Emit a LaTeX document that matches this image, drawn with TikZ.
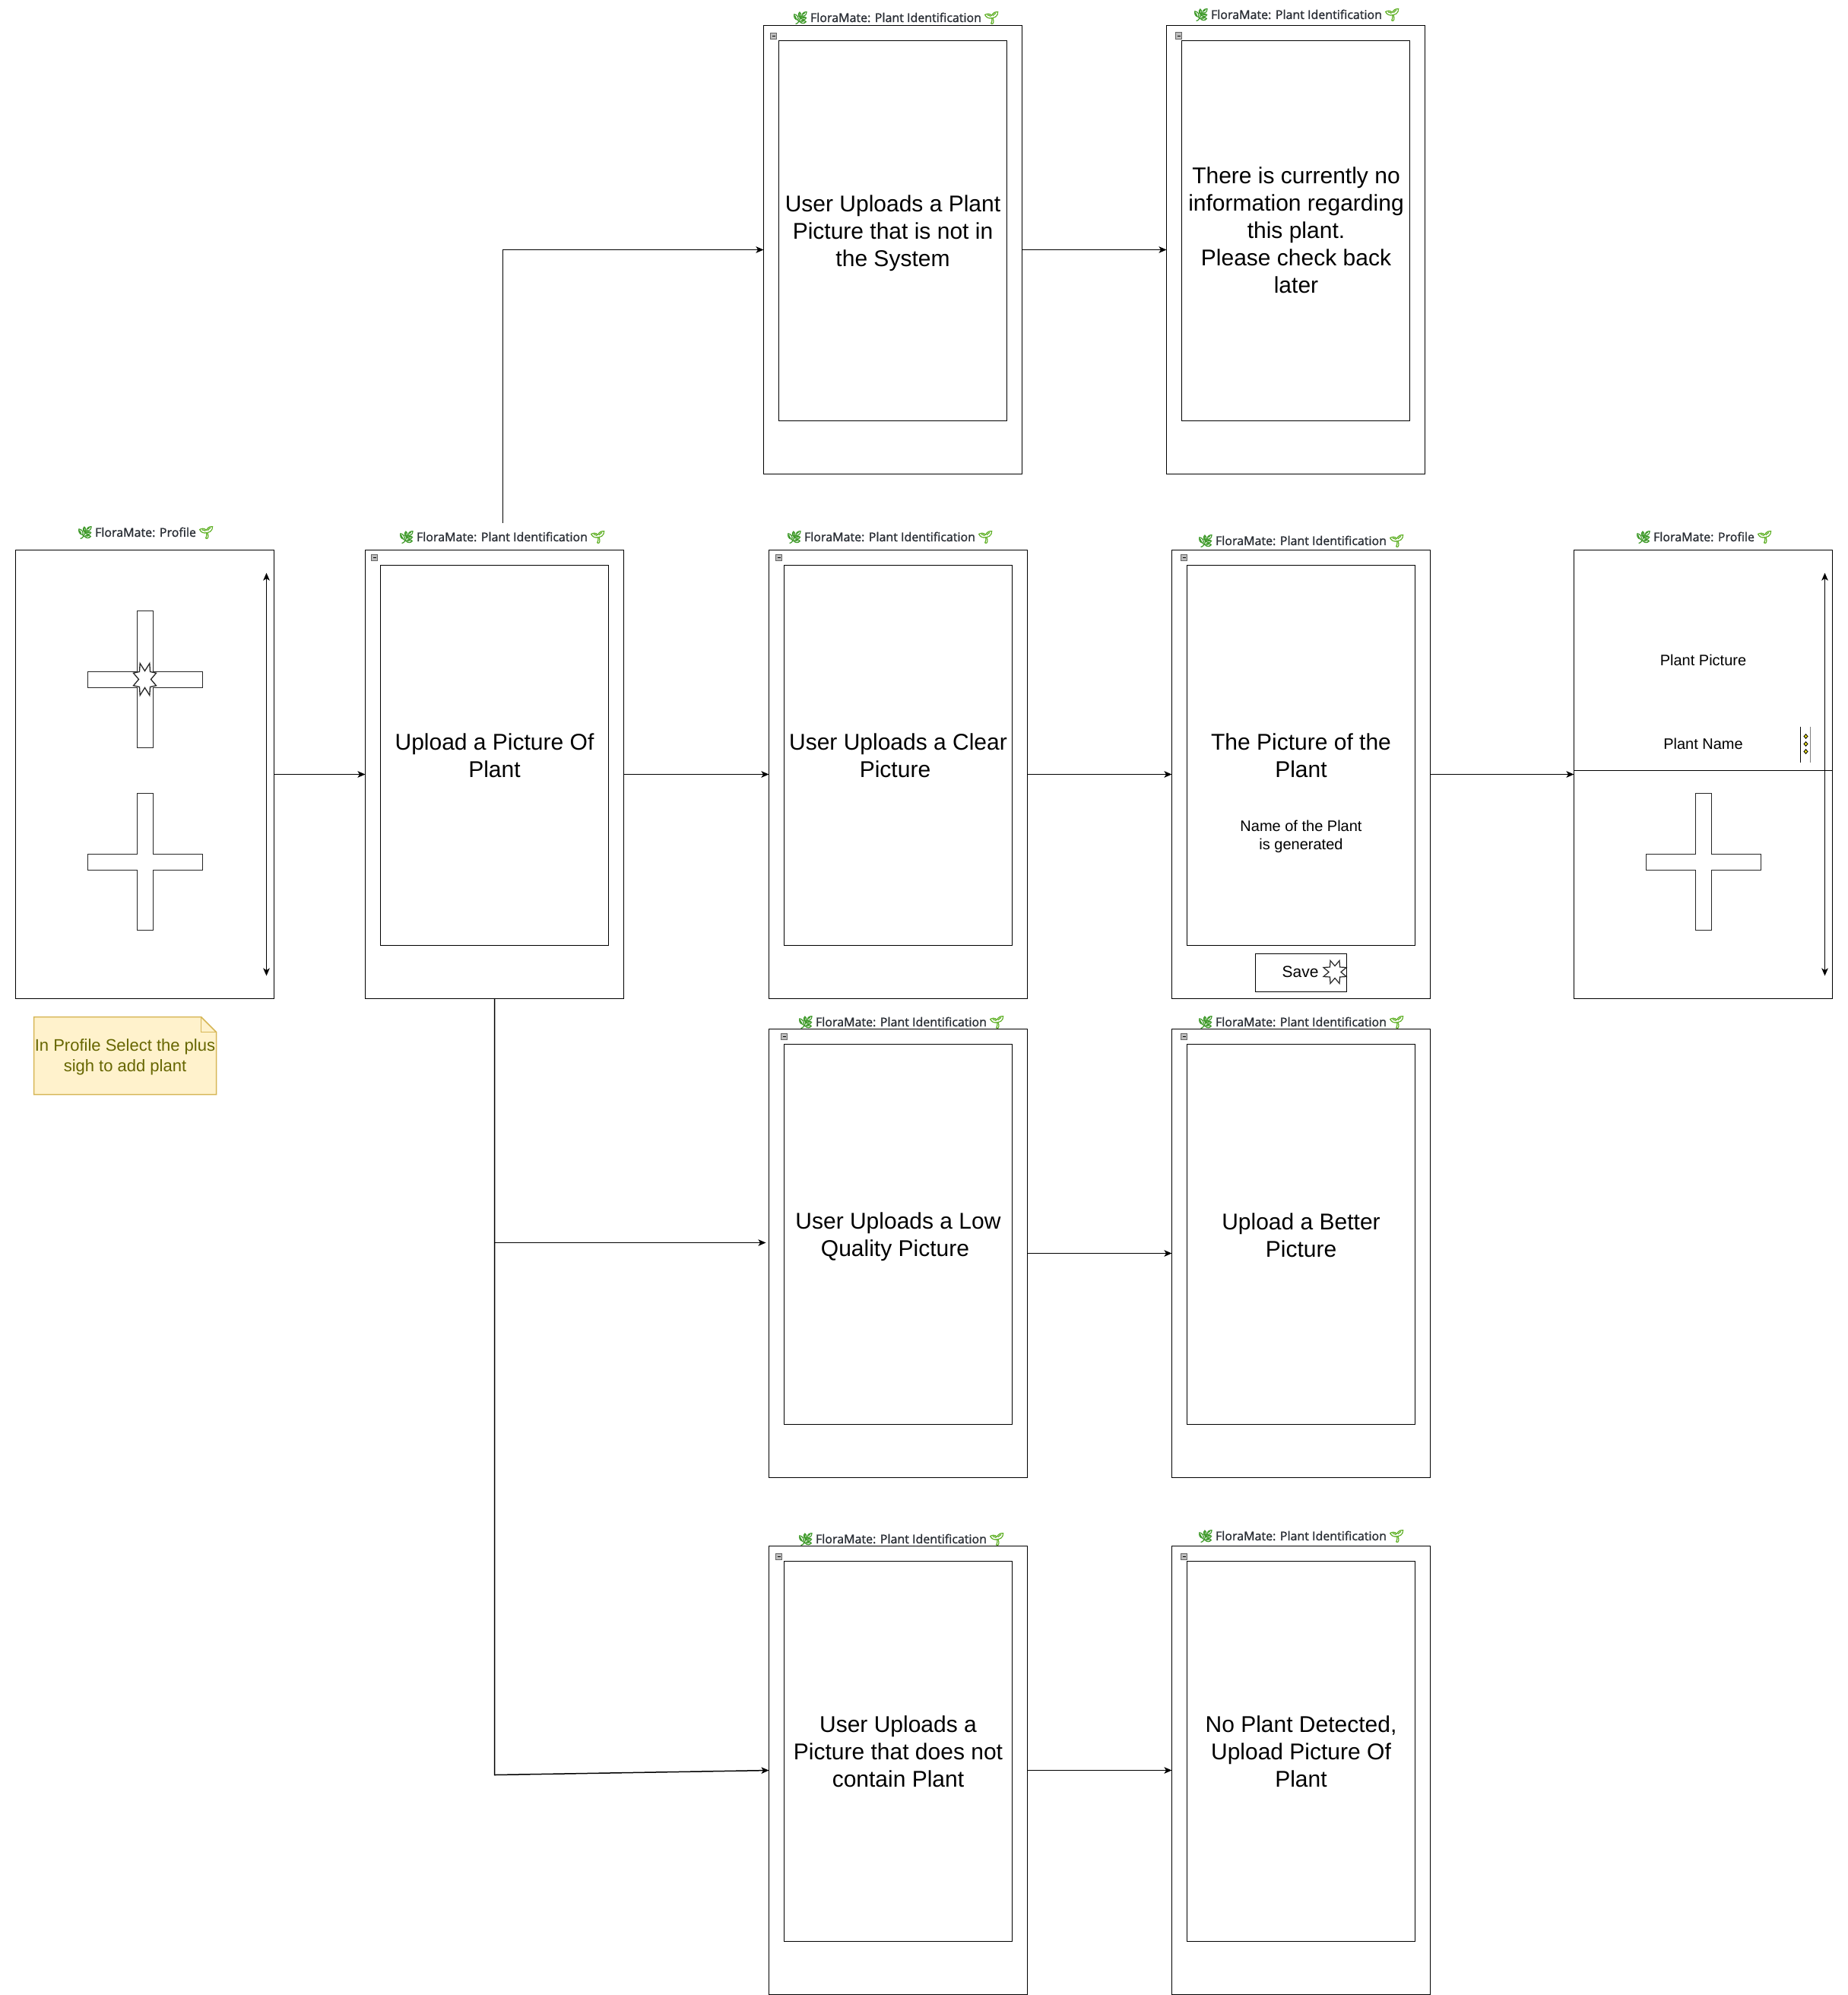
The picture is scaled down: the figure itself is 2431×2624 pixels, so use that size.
\documentclass[tikz,border=0pt]{standalone}
\usepackage{fontspec}
\setmainfont{Liberation Sans}
\newfontfamily\emojifont{Noto Emoji}[FakeBold=3]
\newfontfamily\titlefont{Open Sans}[FakeBold=1.5]
\usetikzlibrary{arrows.meta}
\definecolor{titleink}{HTML}{2A2E35}
\definecolor{leafgreen}{HTML}{3F9A2A}
\definecolor{sproutgreen}{HTML}{5FB025}
\definecolor{notefill}{HTML}{FFF2CC}
\definecolor{noteline}{HTML}{D6B656}
\definecolor{noteink}{HTML}{666600}
\definecolor{iconfill}{HTML}{BDBDBD}
\newcommand{\flowtitle}[1]{{\emojifont\textcolor{leafgreen}{^^^^^1f33f}}\hspace{3pt}#1\hspace{3pt}{\emojifont\textcolor{sproutgreen}{^^^^^1f331}}}
\newcommand{\trailgap}{\hbox to 8pt{\hfil}}
\tikzset{
  x=1pt,y=-1pt,
  line width=1.5pt,
  frame/.style={draw=black,fill=white,minimum width=340pt,minimum height=590pt,inner sep=0pt,outer sep=0pt,line width=1.5pt},
  screen/.style={draw=black,fill=white,minimum width=300pt,minimum height=500pt,inner sep=0pt,outer sep=0pt,line width=1.5pt},
  bigtext/.style={align=center,font=\fontsize{30}{36}\selectfont,inner sep=0pt},
  flow/.style={draw=black,-{Stealth[length=10pt,width=8.5pt,inset=2.5pt]},line width=1.5pt},
  twoway/.style={draw=black,{Stealth[length=10pt,width=8.5pt,inset=2.5pt]}-{Stealth[length=10pt,width=8.5pt,inset=2.5pt]},line width=1.5pt},
  pagetitle/.style={font=\titlefont\fontsize{16}{20}\selectfont,text=titleink,inner sep=0pt},
  small/.style={font=\fontsize{20}{24}\selectfont,align=center,inner sep=0pt},
  icon/.style={draw=black!60,fill=iconfill,minimum size=8.5pt,inner sep=0pt,line width=0.8pt,
    path picture={\draw[black,line width=1pt] ([xshift=-2pt]path picture bounding box.center) -- ([xshift=2pt]path picture bounding box.center);}},
  shapeline/.style={draw=black!85,fill=white,line width=1.3pt,line join=miter},
}
\newcommand{\crossat}[2]{\draw[shapeline] (#1-10,#2-90) -- (#1+11,#2-90) -- (#1+11,#2-10) -- (#1+76,#2-10) -- (#1+76,#2+11) -- (#1+11,#2+11) -- (#1+11,#2+90) -- (#1-10,#2+90) -- (#1-10,#2+11) -- (#1-75,#2+11) -- (#1-75,#2-10) -- (#1-10,#2-10) -- cycle;}
\begin{document}
\begin{tikzpicture}[shift={(0.5,0.5)}]
\useasboundingbox (-0.5,-0.5) rectangle (2430.5,2623.5);
% frames
\node[frame,anchor=north west] (prof) at (20,723) {};
\node[frame,anchor=north west] (upl) at (480,723) {};
\node[frame,anchor=north west] (clr) at (1011,723) {};
\node[frame,anchor=north west] (gen) at (1541,723) {};
\node[frame,anchor=north west] (prof2) at (2070,723) {};
\node[frame,anchor=north west] (top1) at (1004,33) {};
\node[frame,anchor=north west] (top2) at (1534,33) {};
\node[frame,anchor=north west] (low) at (1011,1353) {};
\node[frame,anchor=north west] (bet) at (1541,1353) {};
\node[frame,anchor=north west] (nop) at (1011,2033) {};
\node[frame,anchor=north west] (nod) at (1541,2033) {};
% inner screens
\node[screen,anchor=north west] (suplo) at (500,743) {};
\node[screen,anchor=north west] (sclr) at (1031,743) {};
\node[screen,anchor=north west] (sgen) at (1561,743) {};
\node[screen,anchor=north west] (stop1) at (1024,53) {};
\node[screen,anchor=north west] (stop2) at (1554,53) {};
\node[screen,anchor=north west] (slow) at (1031,1373) {};
\node[screen,anchor=north west] (sbet) at (1561,1373) {};
\node[screen,anchor=north west] (snop) at (1031,2053) {};
\node[screen,anchor=north west] (snod) at (1561,2053) {};
% screen texts
\node[bigtext] (tuplo) at (650,993) {Upload a Picture Of\\Plant};
\node[bigtext] (tclr) at (1181,993) {User Uploads a Clear\\Picture\trailgap};
\node[bigtext] (tgen) at (1711,993) {The Picture of the\\Plant};
\node[small] (tname) at (1711,1099.5) {Name of the Plant\\is generated};
\node[bigtext] (ttop1) at (1174,306) {User Uploads a Plant\\Picture that is not in\\the System};
\node[bigtext] (ttop2) at (1704.5,302.5) {There is currently no\\information regarding\\this plant.\\Please check back\\later};
\node[bigtext] (tlow) at (1181,1626) {User Uploads a Low\\Quality Picture\trailgap};
\node[bigtext] (tbet) at (1711,1624) {Upload a Better\\Picture};
\node[bigtext] (tnop) at (1181,2303) {User Uploads a\\Picture that does not\\contain Plant};
\node[bigtext] (tnod) at (1711,2303) {No Plant Detected,\\Upload Picture Of\\Plant};
% titles
\node[pagetitle] (h1) at (191,700) {\flowtitle{FloraMate: Profile}};
\node[pagetitle] (h2) at (660,706) {\flowtitle{FloraMate: Plant Identification}};
\node[pagetitle] (h3) at (1170,706) {\flowtitle{FloraMate: Plant Identification}};
\node[pagetitle] (h4) at (1711,711) {\flowtitle{FloraMate: Plant Identification}};
\node[pagetitle] (h5) at (2241,706) {\flowtitle{FloraMate: Profile}};
\node[pagetitle] (h6) at (1178,23) {\flowtitle{FloraMate: Plant Identification}};
\node[pagetitle] (h7) at (1705,19) {\flowtitle{FloraMate: Plant Identification}};
\node[pagetitle] (h8) at (1185,1344) {\flowtitle{FloraMate: Plant Identification}};
\node[pagetitle] (h9) at (1711,1344) {\flowtitle{FloraMate: Plant Identification}};
\node[pagetitle] (h10) at (1185,2024) {\flowtitle{FloraMate: Plant Identification}};
\node[pagetitle] (h11) at (1711,2020) {\flowtitle{FloraMate: Plant Identification}};
% collapse icons
\node[icon] (i1) at (492,733) {};
\node[icon] (i2) at (1024,733) {};
\node[icon] (i3) at (1557,733) {};
\node[icon] (i4) at (1017,47) {};
\node[icon] (i5) at (1550,46.5) {};
\node[icon] (i6) at (1031,1363) {};
\node[icon] (i7) at (1557,1363) {};
\node[icon] (i8) at (1024,2047) {};
\node[icon] (i9) at (1557,2047) {};
% profile widgets
\crossat{190}{893}
\crossat{190}{1133}
\crossat{2240}{1133}
\draw[shapeline] (183.7,872) -- (190,882) -- (196.3,872) -- (197,883) -- (205,884.7) -- (198,893) -- (205,901.3) -- (197,903) -- (196.3,914) -- (190,904) -- (183.7,914) -- (183,903) -- (175,901.3) -- (182,893) -- (175,884.7) -- (183,883) -- cycle;
\coordinate (pa) at (350,753);
\coordinate (pb) at (350,1283);
\draw[twoway] (pa) -- (pb);
\coordinate (qa) at (2400,753);
\coordinate (qb) at (2400,1283);
\draw[twoway] (qa) -- (qb);
\draw (prof2.west |- 0,1013) -- (prof2.east |- 0,1013);
\node[small] (pp) at (2240,868) {Plant Picture};
\node[small] (pn) at (2240,978) {Plant Name};
\draw[line width=1.2pt] (2368,955) -- (2368,1002);
\draw[draw=black!50,line width=1.4pt] (2381,955) -- (2381,1002);
\foreach \yy in {968,978,988}{\draw[fill=yellow!90!black,line width=0.8pt] (2375,\yy-2.8) -- (2377.5,\yy) -- (2375,\yy+2.8) -- (2372.5,\yy) -- cycle;}
% save
\node[draw=black,fill=white,minimum width=120pt,minimum height=50pt,inner sep=0pt,anchor=north west,line width=1.5pt] (sv) at (1650,1253) {};
\node[font=\fontsize{21}{24}\selectfont,inner sep=0pt] (svt) at (1710,1278) {Save};
\draw[shapeline,line width=1.2pt] (1749.5,1263) -- (1755.5,1270) -- (1761.5,1263) -- (1762,1271.5) -- (1770.5,1272) -- (1763.5,1278) -- (1770.5,1284) -- (1762,1284.5) -- (1761.5,1293) -- (1755.5,1286) -- (1749.5,1293) -- (1749,1284.5) -- (1740.5,1284) -- (1747.5,1278) -- (1740.5,1272) -- (1749,1271.5) -- cycle;
% note
\draw[draw=noteline,fill=notefill,line width=1.5pt] (44,1337) -- (264,1337) -- (284,1357) -- (284,1439) -- (44,1439) -- cycle;
\draw[draw=noteline,line width=1.5pt] (264,1337) -- (264,1357) -- (284,1357);
\node[align=center,text=noteink,font=\fontsize{22}{27}\selectfont,inner sep=0pt] (notet) at (164,1389.5) {In Profile Select the plus\\sigh to add plant};
% connectors
\draw[flow] (prof.east) -- (upl.west);
\draw[flow] (upl.east) -- (clr.west);
\draw[flow] (clr.east) -- (gen.west);
\draw[flow] (gen.east) -- (prof2.west);
\draw[flow] (top1.east) -- (top2.west);
\draw[flow] (low.east) -- (bet.west);
\draw[flow] (nop.east) -- (nod.west);
\coordinate (upstart) at (661,687);
\draw[flow] (upstart) -- (661,328) -- (top1.west);
\coordinate (lowend) at (1007,1634);
\coordinate (branch) at (650,2334);
\draw[flow] (upl.south) -- (650,1634) -- (lowend);
\draw[flow] (upl.south) -- (branch) -- (nop.west);
\end{tikzpicture}
\end{document}
